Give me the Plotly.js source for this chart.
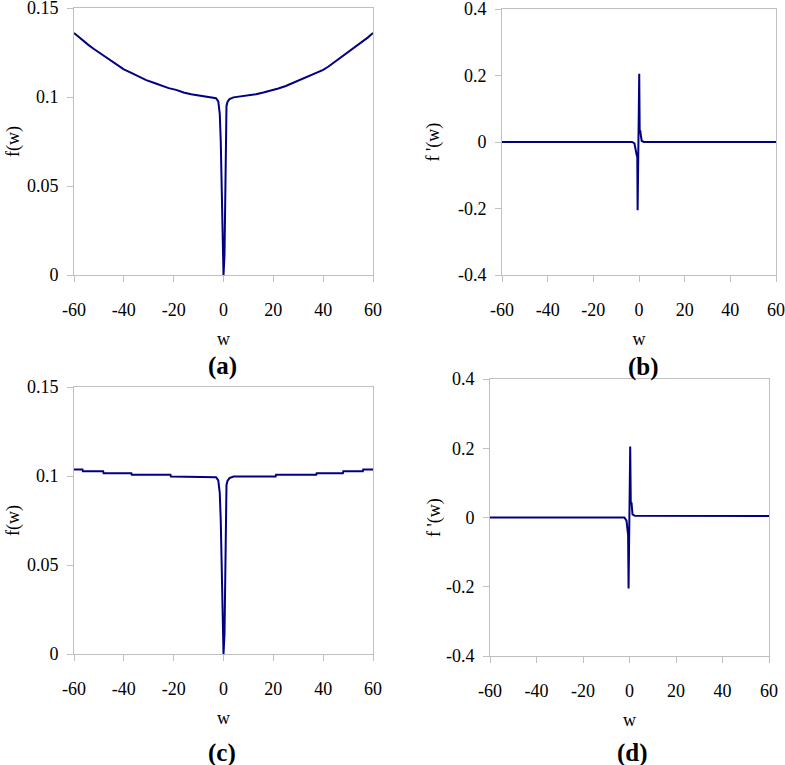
<!DOCTYPE html>
<html>
<head>
<meta charset="utf-8">
<script src="https://cdn.plot.ly/plotly-3.0.1.min.js"></script>
<style>html,body{margin:0;padding:0;background:#fff;}#chart{width:785px;height:765px;}</style>
</head>
<body>
<div id="chart"></div>
<script>
// ---- data ----
const wA = [-60,-58,-56,-54,-52,-50,-48,-46,-44,-42,-40,-37,-34,-31,-28,-25,-22,-19,-16,-13,-10,-7,-4,-3,-2.1,-1.5,-1.1,-0.8,-0.4,0,0.4,0.7,1.0,1.2,1.6,2.4,4,7,10,13,16,19,22,25,28,31,34,37,40,42,44,46,48,50,52,54,56,58,60];
const fA = [0.136,0.1335,0.131,0.129,0.127,0.125,0.123,0.121,0.119,0.117,0.1155,0.1135,0.1115,0.1095,0.108,0.1065,0.105,0.104,0.1025,0.1015,0.1008,0.1003,0.0998,0.0993,0.0975,0.0905,0.075,0.05,0.011,0,0.011,0.05,0.08,0.095,0.0972,0.0988,0.0998,0.1003,0.1008,0.1015,0.1025,0.1035,0.1048,0.1062,0.108,0.1095,0.1112,0.1132,0.1152,0.117,0.119,0.121,0.123,0.125,0.127,0.129,0.1312,0.1335,0.136];

const wB = [-60,-3,-2,-1.4,-1.0,-0.75,-0.6,0.1,0.3,0.55,0.8,1.2,2.2,60];
const fB = [0,0,-0.004,-0.035,-0.04,-0.045,-0.205,0.205,0.03,0.035,0.02,0.003,0,0];

const wC = [-60,-56.6,-56.4,-48.3,-48.1,-37,-36.8,-21.3,-21.1,-4,-3,-2.1,-1.5,-1.1,-0.8,-0.4,0,0.4,0.7,1.0,1.2,1.6,2.4,4,20.9,21.1,37.2,37.4,47.9,48.1,55.9,56.1,60];
const fC = [0.1037,0.1037,0.1027,0.1027,0.1016,0.1016,0.1007,0.1007,0.0997,0.0996,0.0993,0.0975,0.0905,0.075,0.05,0.011,0,0.011,0.05,0.08,0.095,0.0972,0.0988,0.0997,0.0997,0.1007,0.1007,0.1016,0.1016,0.1027,0.1027,0.1037,0.1037];

const wD = [-60,-2.2,-1.3,-0.9,-0.6,-0.4,0.3,0.55,0.85,1.3,2.3,60];
const fD = [0,0,-0.009,-0.045,-0.05,-0.205,0.205,0.038,0.044,0.009,0.005,0.004];

const xTickVals = [-60,-40,-20,0,20,40,60];
const xTickText = ['-60','-40','-20','0','20','40','60'];
const fTickVals = [0,0.05,0.1,0.15];
const fTickText = ['0','0.05','0.1','0.15'];
const dTickVals = [-0.4,-0.2,0,0.2,0.4];
const dTickText = ['-0.4','-0.2','0','0.2','0.4'];
const panelLabels = ['(a)','(b)','(c)','(d)'];

// ---- styling ----
const W = 785, H = 765;
const font = '"Liberation Serif", "Times New Roman", Times, "DejaVu Serif", serif';
const lineStyle = {color:'#000080', width:2};
function px(a,b){return [a/W,b/W];}
function py(top,bottom){return [1-bottom/H,1-top/H];}
function ax(extra){
  return Object.assign({
    showline:true, linecolor:'#c0c0c0', linewidth:1, mirror:true,
    ticks:'outside', ticklen:6, tickcolor:'#c0c0c0', tickwidth:1,
    showgrid:false, zeroline:false, fixedrange:true, ticklabeloverflow:'allow',
    tickfont:{family:font,size:18,color:'#000'}
  }, extra);
}
function xax(dom, anchor){
  return ax({domain:dom, anchor:anchor, range:[-60,60], tickmode:'array', tickvals:xTickVals, ticktext:xTickText,
    ticklabelstandoff:12,
    title:{text:'w', font:{family:font,size:18,color:'#000'}, standoff:13}});
}
function yax(dom, anchor, range, tv, tt, title, standoff){
  return ax({domain:dom, anchor:anchor, range:range, tickmode:'array', tickvals:tv, ticktext:tt,
    ticklabelstandoff:5,
    title:{text:title, font:{family:font,size:18,color:'#000'}, standoff:standoff}});
}

const traces = [
  {x:wA, y:fA, xaxis:'x', yaxis:'y', mode:'lines', line:lineStyle, hoverinfo:'skip'},
  {x:wB, y:fB, xaxis:'x2', yaxis:'y2', mode:'lines', line:lineStyle, hoverinfo:'skip'},
  {x:wC, y:fC, xaxis:'x3', yaxis:'y3', mode:'lines', line:lineStyle, hoverinfo:'skip'},
  {x:wD, y:fD, xaxis:'x4', yaxis:'y4', mode:'lines', line:lineStyle, hoverinfo:'skip'}
];

const labelPos = [[222,366],[643,367],[222,753],[632,753]];
const annotations = panelLabels.map((t,i)=>({
  text:'<b>'+t+'</b>', xref:'paper', yref:'paper', x:labelPos[i][0]/W, y:1-labelPos[i][1]/H,
  xanchor:'center', yanchor:'middle', showarrow:false, font:{family:font,size:25,color:'#000'}
}));

const layout = {
  width:W, height:H, margin:{l:0,r:0,t:0,b:0}, showlegend:false,
  paper_bgcolor:'#fff', plot_bgcolor:'#fff',
  font:{family:font,size:18,color:'#000'},
  xaxis: xax(px(74,373),'y'),
  yaxis: yax(py(8,275),'x',[0,0.15],fTickVals,fTickText,'f(w)',2),
  xaxis2: xax(px(502,776),'y2'),
  yaxis2: yax(py(9,275),'x2',[-0.4,0.4],dTickVals,dTickText,"f '(w)",13),
  xaxis3: xax(px(74,373),'y3'),
  yaxis3: yax(py(387,654),'x3',[0,0.15],fTickVals,fTickText,'f(w)',2),
  xaxis4: xax(px(490,769),'y4'),
  yaxis4: yax(py(379,656),'x4',[-0.4,0.4],dTickVals,dTickText,"f '(w)",0),
  annotations: annotations
};

Plotly.newPlot('chart', traces, layout, {staticPlot:true, displayModeBar:false});
</script>
</body>
</html>
